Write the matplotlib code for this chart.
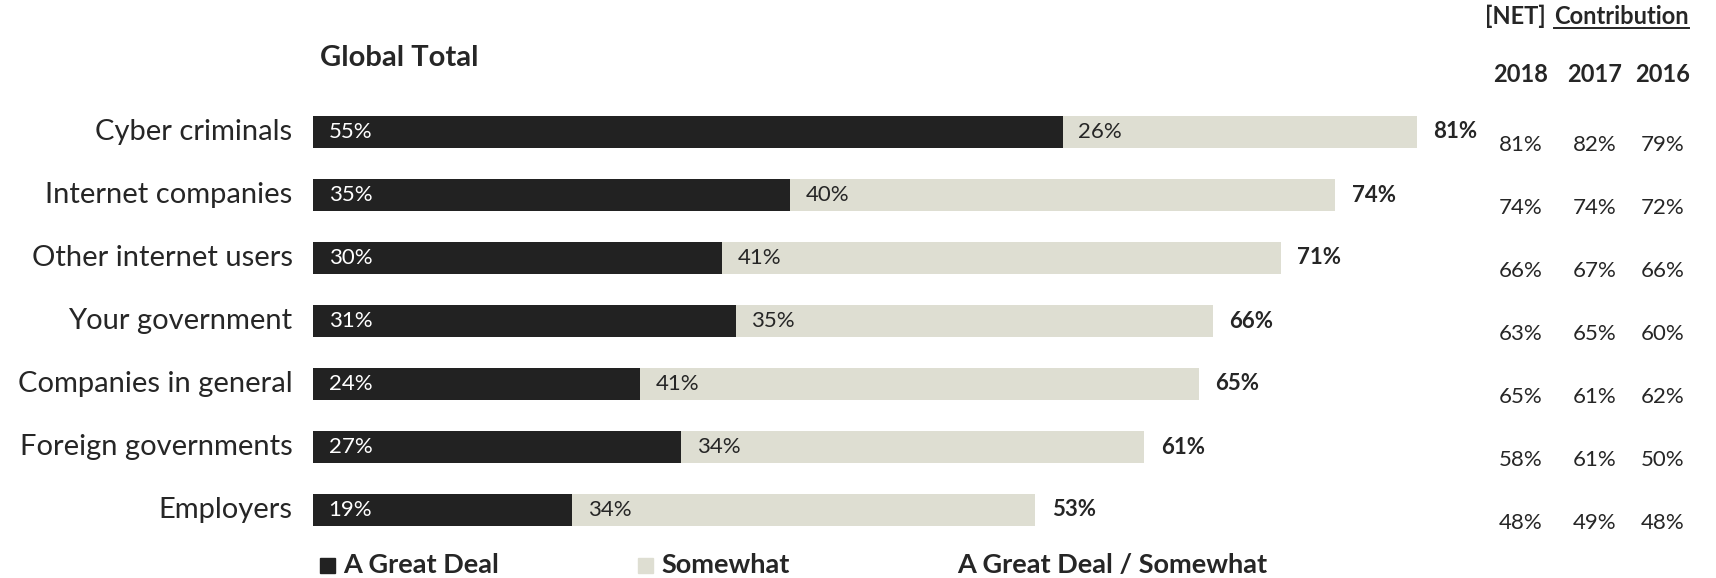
import matplotlib
matplotlib.use("Agg")
import matplotlib.pyplot as plt
from matplotlib.patches import Rectangle
from matplotlib.lines import Line2D
import matplotlib.transforms as mtransforms

plt.rcParams['font.family'] = ['Lato', 'DejaVu Sans']

categories = ["Cyber criminals", "Internet companies", "Other internet users",
              "Your government", "Companies in general", "Foreign governments", "Employers"]
great_deal = [55, 35, 30, 31, 24, 27, 19]
somewhat = [26, 40, 41, 35, 41, 34, 34]
net_2018 = [81, 74, 71, 66, 65, 61, 53]
years = ["2018", "2017", "2016"]
contrib_2018 = [81, 74, 66, 63, 65, 58, 48]
contrib_2017 = [82, 74, 67, 65, 61, 61, 49]
contrib_2016 = [79, 72, 66, 60, 62, 50, 48]

DARK = "#222222"
LIGHT = "#DEDED2"
TXT = "#262626"

W, H = 1716, 578
fig = plt.figure(figsize=(W / 100, H / 100), dpi=100)
ax = fig.add_axes([313 / W, 1 - 541.5 / H, 1363 / W, 441 / H])
ax.set_xlim(0, 100)
ax.set_ylim(6.5, -0.5)
ax.axis("off")

ypos = list(range(len(categories)))
ax.barh(ypos, great_deal, height=0.52, color=DARK)
ax.barh(ypos, somewhat, left=great_deal, height=0.52, color=LIGHT)

for i, cat in enumerate(categories):
    ax.text(-1.5, i, cat, ha="right", va="center", fontsize=21, color=TXT)
    ax.text(1.15, i, f"{great_deal[i]}%", ha="left", va="center", fontsize=16, color="white")
    ax.text(great_deal[i] + 1.15, i, f"{somewhat[i]}%", ha="left", va="center", fontsize=16, color=TXT)
    ax.text(great_deal[i] + somewhat[i] + 1.2, i, f"{net_2018[i]}%", ha="left", va="center",
            fontsize=16, color=TXT, fontweight="bold")

# Right-hand table
blend = mtransforms.blended_transform_factory(fig.transFigure, ax.transData)
col_x = [1521 / W, 1595 / W, 1663 / W]
for j, col in enumerate([contrib_2018, contrib_2017, contrib_2016]):
    for i, v in enumerate(col):
        ax.text(col_x[j], i + 0.2, f"{v}%", ha="center", va="center", fontsize=16,
                color=TXT, transform=blend)
    fig.text(col_x[j], 1 - 74 / H, years[j], ha="center", va="center", fontsize=17,
             fontweight="bold", color=TXT)

# Header
fig.text(1546 / W, 1 - 16 / H, "[NET]", ha="right", va="center", fontsize=17,
         fontweight="bold", color=TXT)
ct = fig.text(1554 / W, 1 - 16 / H, "Contribution", ha="left", va="center", fontsize=17,
              fontweight="bold", color=TXT)
fig.canvas.draw()
bb = ct.get_window_extent(fig.canvas.get_renderer())
uy = 1 - 28 / H
fig.add_artist(Line2D([bb.x0 / W, bb.x1 / W], [uy, uy], transform=fig.transFigure,
                      color=TXT, lw=1.4))

fig.text(320 / W, 1 - 58 / H, "Global Total", ha="left", va="center", fontsize=21,
         fontweight="bold", color=TXT)

# Legend
ly = 1 - 565 / H
sq = 15
fig.add_artist(Rectangle((320 / W, ly - sq / 2 / H), sq / W, sq / H, transform=fig.transFigure,
                         color=DARK))
fig.text(343 / W, ly, "A Great Deal", ha="left", va="center", fontsize=19.5, fontweight="bold", color=TXT)
fig.add_artist(Rectangle((638 / W, ly - sq / 2 / H), sq / W, sq / H, transform=fig.transFigure,
                         color=LIGHT))
fig.text(661 / W, ly, "Somewhat", ha="left", va="center", fontsize=19.5, fontweight="bold", color=TXT)
fig.text(957 / W, ly, "A Great Deal / Somewhat", ha="left", va="center", fontsize=19.5,
         fontweight="bold", color=TXT)

fig.savefig("out.png", dpi=100, facecolor="white")
